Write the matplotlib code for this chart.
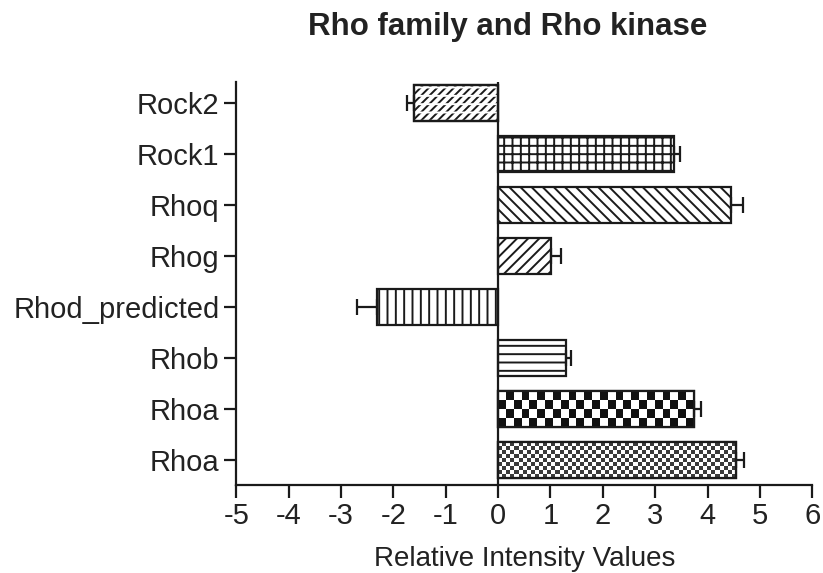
import numpy as np
import matplotlib
matplotlib.use('Agg')
import matplotlib.pyplot as plt
from matplotlib.colors import ListedColormap

plt.rcParams['font.family'] = ['Liberation Sans', 'DejaVu Sans']
plt.rcParams['hatch.linewidth'] = 1.4
plt.rcParams['axes.unicode_minus'] = False

# bottom to top
genes = ['Rhoa', 'Rhoa', 'Rhob', 'Rhod_predicted', 'Rhog', 'Rhoq', 'Rock1', 'Rock2']
values = [4.54, 3.74, 1.29, -2.31, 1.02, 4.45, 3.35, -1.60]
errors = [0.15, 0.14, 0.11, 0.39, 0.18, 0.23, 0.13, 0.14]
hatches = [None, None, '--', '||', '///', '\\\\\\', '++', '////']
# checkerboard fills (cell size in data units) for the two Rhoa bars
checkers = {0: (0.078, 0.08, '#3a3a3a'), 1: (0.15, 0.157, '#111111')}

fig = plt.figure(figsize=(8.23, 5.73), dpi=100)
ax = fig.add_axes([0.287, 0.1536, 0.700, 0.703])

ypos = np.arange(len(genes))
bars = ax.barh(ypos, values, height=0.7, left=0, color='white',
               edgecolor='#1a1a1a', linewidth=1.6, zorder=2)
for b, h in zip(bars, hatches):
    if h:
        b.set_hatch(h)

for idx, (cx, cy, col) in checkers.items():
    p = bars[idx]
    x0, w, y0, hgt = p.get_x(), p.get_width(), p.get_y(), p.get_height()
    ncol = max(1, int(round(w / cx)))
    nrow = max(1, int(round(hgt / cy)))
    img = np.add.outer(np.arange(nrow), np.arange(ncol)) % 2
    im = ax.imshow(img, cmap=ListedColormap(['white', col]), extent=[x0, x0 + w, y0, y0 + hgt],
                   aspect='auto', interpolation='nearest', zorder=2.5)
    im.set_clip_path(p)
    # redraw outline on top
    ax.barh(ypos[idx], values[idx], height=0.7, color='none', edgecolor='#1a1a1a',
            linewidth=1.6, zorder=3)

# Rock2: break the diagonals into rows with white horizontal hatch
r2 = len(genes) - 1
ax.barh(ypos[r2], values[r2], height=0.7, color='none', edgecolor='white',
        hatch='--', linewidth=0, zorder=2.6)
ax.barh(ypos[r2], values[r2], height=0.7, color='none', edgecolor='#1a1a1a',
        linewidth=1.6, zorder=3)

# one-sided error bars pointing away from zero
vals = np.array(values)
errs = np.array(errors)
lower = np.where(vals < 0, errs, 0)
upper = np.where(vals > 0, errs, 0)
ax.errorbar(vals, ypos, xerr=[lower, upper], fmt='none', ecolor='#1a1a1a',
            elinewidth=1.6, capsize=6, capthick=1.6, zorder=4)

ax.axvline(0, color='#1a1a1a', lw=1.6, zorder=3)

ax.set_xlim(-5, 6)
ax.set_ylim(-0.49, 7.41)
ax.set_xticks(range(-5, 7))
ax.set_yticks(ypos)
ax.set_yticklabels(genes)

for s in ['top', 'right']:
    ax.spines[s].set_visible(False)
for s in ['left', 'bottom']:
    ax.spines[s].set_linewidth(1.6)
    ax.spines[s].set_color('#1a1a1a')
ax.tick_params(axis='both', direction='out', length=9, width=1.6, colors='#1a1a1a',
               labelsize=21, labelcolor='#222222')
ax.tick_params(axis='x', pad=3)
ax.tick_params(axis='y', pad=3)

ax.set_xlabel('Relative Intensity Values', fontsize=20, color='#222222')
ax.xaxis.set_label_coords(0.5, -0.152)

fig.text(0.617, 0.953, 'Rho family and Rho kinase', ha='center', va='center',
         fontsize=22.5, fontweight='bold', color='#222222')

fig.savefig('out.png', dpi=100, facecolor='white')
